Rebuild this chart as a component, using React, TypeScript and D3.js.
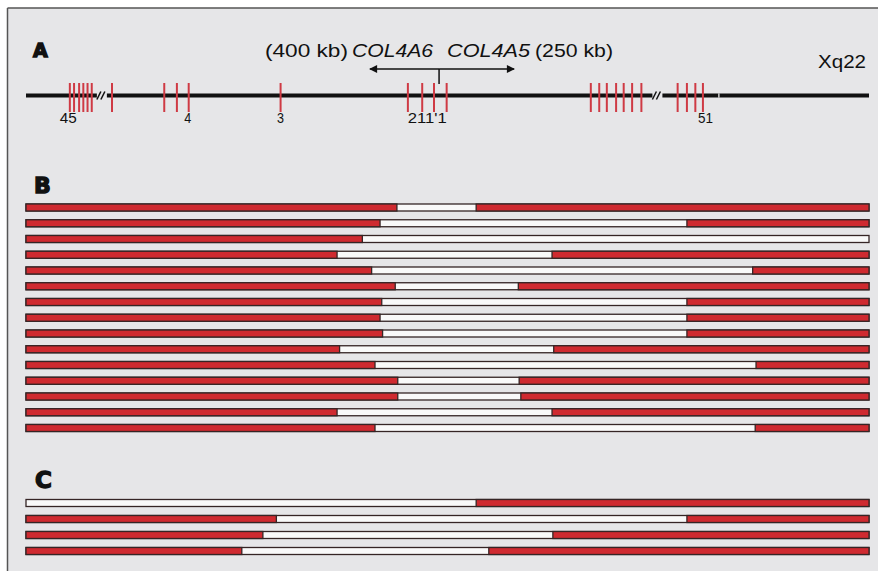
import React from "react";
import * as d3 from "d3";

// positions along the map, in percent of the drawn region
const exonPos = [5.2, 5.7, 6.3, 6.8, 7.3, 7.8, 10.2, 16.4, 17.9, 19.3, 30.2, 45.3, 47.0, 48.4, 49.9,
  67.0, 68.0, 68.9, 70.0, 70.9, 71.9, 73.0, 77.3, 78.4, 79.4, 80.3];
const breakPos = [9.0, 74.9];
const exonLabels = ["45", "4", "3", "211'1", "51"];
const exonLabelPos = [5.0, 19.2, 30.2, 47.6, 80.6];
const promoterPos = 49.0;
const arrowEnds = [40.8, 57.9];

// deletions: [start, end] of the white (deleted) part
const delStartB = [44.0, 42.0, 39.9, 36.9, 41.0, 43.8, 42.2, 42.0, 42.3, 37.2, 41.4, 44.1, 44.1, 36.9, 41.4];
const delEndB = [53.4, 78.4, 100, 62.4, 86.2, 58.4, 78.4, 78.4, 78.4, 62.6, 86.6, 58.5, 58.7, 62.4, 86.5];
const delStartC = [0, 29.7, 28.1, 25.6];
const delEndC = [53.4, 78.4, 62.5, 54.9];

const W = 878;
const H = 571;
const RED = "#cf2a30";
const EDGE = "#352525";
const BG = "#e6e6e8";
const FONT = "'Liberation Sans', Arial, sans-serif";
const HEAVY = "'DejaVu Sans', sans-serif";

const x = d3.scaleLinear().domain([0, 100]).range([26, 869]);

function Rows({ starts, ends, y0, y1 }: { starts: number[]; ends: number[]; y0: number; y1: number }) {
  const y = d3.scalePoint<number>().domain(d3.range(starts.length)).range([y0, y1]);
  const h = 7;
  return (
    <g>
      {starts.map((s, i) => {
        const e = ends[i];
        const cy = y(i) as number;
        return (
          <g key={i}>
            <rect x={x(0)} y={cy - h / 2} width={x(100) - x(0)} height={h} fill="#f9f9f9" stroke={EDGE} strokeWidth={1.3} />
            {s > 0 && (
              <rect x={x(0)} y={cy - h / 2} width={x(s) - x(0)} height={h} fill={RED} stroke={EDGE} strokeWidth={1.3} />
            )}
            {e < 100 && (
              <rect x={x(e)} y={cy - h / 2} width={x(100) - x(e)} height={h} fill={RED} stroke={EDGE} strokeWidth={1.3} />
            )}
          </g>
        );
      })}
    </g>
  );
}

// text stretched to a measured width, as in the scanned figure
function T({ x0, y0, w, size, italic, anchor, children }: any) {
  return (
    <text x={x0} y={y0} fontFamily={FONT} fontSize={size} fill="#111" fontStyle={italic ? "italic" : "normal"}
      textAnchor={anchor || "start"} textLength={w} lengthAdjust="spacingAndGlyphs">{children}</text>
  );
}

export default function App() {
  const lineY = 95.5;
  const arrowY = 69;
  const labelW = [17, 7, 7, 39, 15];
  return (
    <svg width={W} height={H} style={{ position: "absolute", left: 0, top: 0, background: "#fff" }}>
      <defs>
        <marker id="ah" viewBox="0 0 10 10" refX="9" refY="5" markerWidth="9" markerHeight="8" markerUnits="userSpaceOnUse" orient="auto">
          <path d="M0,0 L10,5 L0,10 z" fill="#111" />
        </marker>
      </defs>
      <rect x={7.5} y={8} width={W} height={H} fill={BG} />
      <line x1={7.5} x2={W} y1={8} y2={8} stroke="#555" strokeWidth={1.5} />
      <line x1={7.5} x2={7.5} y1={8} y2={H} stroke="#555" strokeWidth={1.5} />

      {/* panel A: gene map */}
      <text x={33} y={57} fontFamily={HEAVY} fontWeight={900} fontSize={19} stroke="#111" strokeWidth={1.4} fill="#111">A</text>
      <line x1={x(0)} x2={x(100)} y1={lineY} y2={lineY} stroke="#111" strokeWidth={4} />
      <line x1={x(82.1)} x2={x(82.1) + 1.5} y1={lineY} y2={lineY} stroke="#ccc" strokeWidth={4.5} />
      {breakPos.map((b, i) => (
        <g key={i}>
          <rect x={x(b) - 5} y={lineY - 3} width={10} height={6} fill={BG} />
          <line x1={x(b) - 5} x2={x(b) - 1} y1={lineY + 4} y2={lineY - 4} stroke="#111" strokeWidth={1.5} />
          <line x1={x(b) - 1} x2={x(b) + 3} y1={lineY + 4} y2={lineY - 4} stroke="#111" strokeWidth={1.5} />
        </g>
      ))}
      {exonPos.map((p, i) => (
        <line key={i} x1={x(p)} x2={x(p)} y1={83} y2={112} stroke="#cf3a44" strokeWidth={2} />
      ))}
      {exonLabels.map((t, i) => (
        <T key={i} x0={x(exonLabelPos[i])} y0={123} w={labelW[i]} size={14} anchor="middle">{t}</T>
      ))}
      <line x1={x(promoterPos)} x2={x(promoterPos)} y1={arrowY} y2={84} stroke="#111" strokeWidth={1.5} />
      <line x1={x(promoterPos)} x2={x(arrowEnds[0])} y1={arrowY} y2={arrowY} stroke="#111" strokeWidth={1.5} markerEnd="url(#ah)" />
      <line x1={x(promoterPos)} x2={x(arrowEnds[1])} y1={arrowY} y2={arrowY} stroke="#111" strokeWidth={1.5} markerEnd="url(#ah)" />
      <T x0={265} y0={57} w={83} size={18}>(400 kb)</T>
      <T x0={352} y0={57} w={81} size={18} italic>COL4A6</T>
      <T x0={447} y0={57} w={83} size={18} italic>COL4A5</T>
      <T x0={535} y0={57} w={78} size={18}>(250 kb)</T>
      <T x0={818} y0={68} w={48} size={18}>Xq22</T>

      {/* panel B */}
      <text x={34} y={193} fontFamily={HEAVY} fontWeight={900} fontSize={22} stroke="#111" strokeWidth={1.4} fill="#111">B</text>
      <Rows starts={delStartB} ends={delEndB} y0={207.5} y1={428} />

      {/* panel C */}
      <text x={35} y={488} fontFamily={HEAVY} fontWeight={900} fontSize={23} stroke="#111" strokeWidth={1.4} fill="#111">C</text>
      <Rows starts={delStartC} ends={delEndC} y0={503} y1={551} />
    </svg>
  );
}
